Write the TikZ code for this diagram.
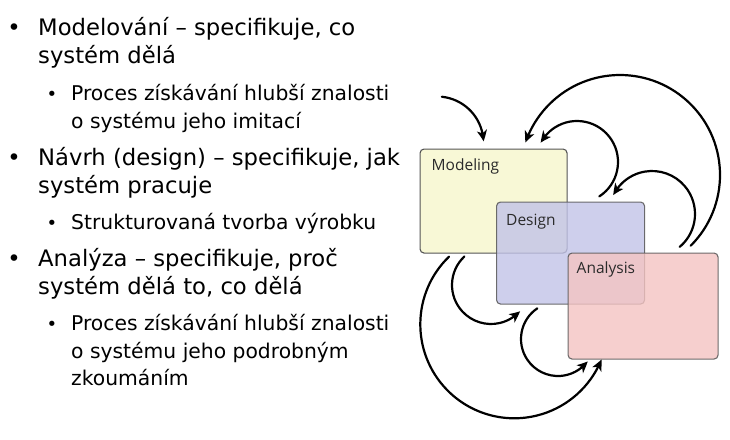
\documentclass[tikz,border=0pt]{standalone}
\usepackage{fontspec}
\setmainfont{DejaVu Sans}
\newfontfamily\boxfont{Open Sans}
\usetikzlibrary{arrows.meta,calc,bending}

\definecolor{modfill}{HTML}{F8F8D6}
\definecolor{desfill}{HTML}{C2C3E8}
\definecolor{anafill}{HTML}{F4C4C2}
\definecolor{boxline}{HTML}{555555}
\definecolor{labtext}{HTML}{2A2A2A}

\tikzset{
  mainitem/.style={anchor=base west, inner sep=0pt,
    font=\fontsize{22.7}{28}\selectfont},
  subitem/.style={anchor=base west, inner sep=0pt,
    font=\fontsize{20.3}{27.5}\selectfont},
  mainbul/.style={anchor=base, inner sep=0pt, font=\fontsize{22.7}{28}\selectfont},
  subbul/.style={anchor=base, inner sep=0pt, font=\fontsize{18}{27}\selectfont},
  phase/.style={draw=boxline, line width=1.1pt, rounded corners=4pt,
    anchor=north west, inner sep=0pt},
  phaselabel/.style={anchor=west, inner sep=0pt, text=labtext,
    font=\boxfont\fontsize{15.5}{17}\selectfont},
  flow/.style={line width=2.2pt, line cap=round,
    -{Stealth[length=11pt,width=10pt,inset=3pt,bend]}},
}

\begin{document}
\begin{tikzpicture}[x=1pt,y=1pt]
\useasboundingbox (0,0) rectangle (730,-439);
\fill[white] (0,0) rectangle (730,-439);

% --- bullet list ---
\node[mainbul] (b1) at (14,-35) {•};
\node[mainitem] (t1) at (38,-35) {Modelování – specifikuje, co};
\node[mainitem] (t1l2) at (38,-63) {systém dělá};
\node[subbul] (b1a) at (52,-100) {•};
\node[subitem] (t1a) at (71,-100) {Proces získávání hlubší znalosti};
\node[subitem] (t1al2) at (71,-128) {o systému jeho imitací};

\node[mainbul] (b2) at (14,-165) {•};
\node[mainitem] (t2) at (38,-165) {Návrh (design) – specifikuje, jak};
\node[mainitem] (t2l2) at (38,-193) {systém pracuje};
\node[subbul] (b2a) at (52,-229) {•};
\node[subitem] (t2a) at (71,-229) {Strukturovaná tvorba výrobku};

\node[mainbul] (b3) at (14,-266) {•};
\node[mainitem] (t3) at (38,-266) {Analýza – specifikuje, proč};
\node[mainitem] (t3l2) at (38,-294) {systém dělá to, co dělá};
\node[subbul] (b3a) at (52,-330) {•};
\node[subitem] (t3a) at (71,-330) {Proces získávání hlubší znalosti};
\node[subitem] (t3al2) at (71,-358) {o systému jeho podrobným};
\node[subitem] (t3al3) at (71,-385) {zkoumáním};

% --- overlapping phase boxes ---
\node[phase, fill=modfill, minimum width=147pt, minimum height=104pt] (mod) at (419.5,-148.5) {};
\node[phase, fill=desfill, fill opacity=0.8, draw opacity=0.85, minimum width=148pt, minimum height=102pt] (des) at (496,-201.5) {};
\node[phase, fill=anafill, fill opacity=0.8, draw opacity=0.85, minimum width=150pt, minimum height=106pt] (ana) at (567.5,-252.5) {};

\node[phaselabel] (lmod) at ($(mod.north west)+(12,-17.5)$) {Modeling};
\node[phaselabel] (ldes) at ($(des.north west)+(10,-20)$) {Design};
\node[phaselabel] (lana) at ($(ana.north west)+(9,-16.5)$) {Analysis};

% --- feedback arcs (centres of the circular arcs) ---
\coordinate (cin)  at (437,-143);
\coordinate (cam)  at (620,-175);
\coordinate (cdm)  at (577,-162);
\coordinate (cad)  at (652,-214);
\coordinate (cmd)  at (491,-285);
\coordinate (cda)  at (558,-339);
\coordinate (cma)  at (515,-325);

% entry into modeling
\draw[flow] ($(cin)+(84:46.5)$) arc[start angle=84, end angle=2, radius=46.5];
% analysis -> modeling (outer loop)
\draw[flow] ($(cam)+(-45:100)$) arc[start angle=-45, end angle=161, radius=100];
% design -> modeling
\draw[flow] ($(cdm)+(-57:41)$) arc[start angle=-57, end angle=152, radius=41];
% analysis -> design
\draw[flow] ($(cad)+(-50:43)$) arc[start angle=-50, end angle=154, radius=43];
% modeling -> design
\draw[flow] ($(cmd)+(133:39)$) arc[start angle=133, end angle=318, radius=39];
% design -> analysis
\draw[flow] ($(cda)+(124:37)$) arc[start angle=124, end angle=323, radius=37];
% modeling -> analysis (outer loop)
\draw[flow] ($(cma)+(134:95)$) arc[start angle=134, end angle=338, radius=94];
\end{tikzpicture}
\end{document}
